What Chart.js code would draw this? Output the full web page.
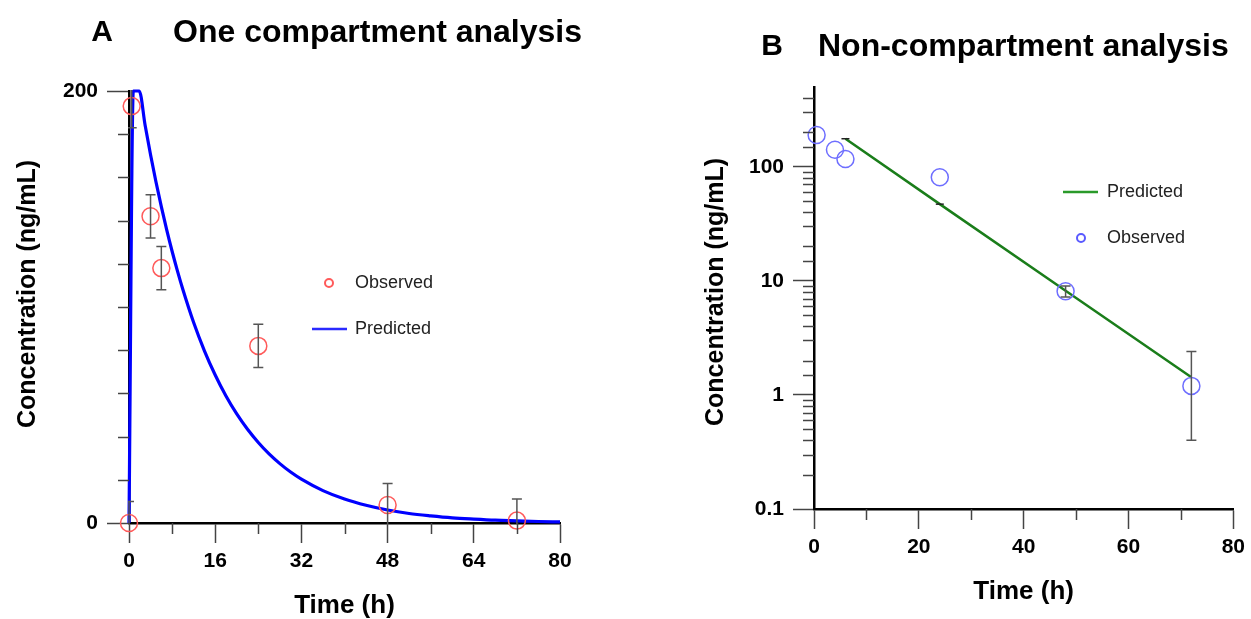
<!DOCTYPE html>
<html><head><meta charset="utf-8">
<script src="https://cdn.jsdelivr.net/npm/chart.js@4.4.0/dist/chart.umd.min.js"></script>
<style>
html,body{margin:0;padding:0;background:#fff;}
#wrap{position:relative;width:1251px;height:619px;overflow:hidden;background:#fff;}
canvas{position:absolute;top:0;}
#cA{left:0;} #cB{left:625px;}
</style></head><body>
<div id="wrap"><canvas id="cA" width="625" height="619"></canvas><canvas id="cB" width="626" height="619"></canvas></div>
<script>
// ---------- Panel A: one compartment analysis ----------
const obsTimeA  = [0, 0.5, 4, 6, 24, 48, 72];
const obsConcA  = [0, 193, 142, 118, 82, 8.3, 1.1];
const obsSdA    = [10, 10, 10, 10, 10, 10, 10];
const predTimeA = [0, 0.8, 1.9, 3, 4, 5, 6, 7, 8, 9, 10, 12, 14, 16, 18, 20, 22, 24, 26, 28, 30, 32, 36, 40, 44, 48, 52, 56, 60, 64, 68, 72, 76, 80];
const predConcA = [0, 200, 200, 184, 170.5, 158, 146.5, 135.7, 125.8, 116.6, 108.1, 92.8, 79.7, 68.5, 58.8, 50.5, 43.4, 37.3, 32.0, 27.5, 23.6, 20.3, 15.0, 11.1, 8.2, 6.0, 4.4, 3.3, 2.4, 1.8, 1.3, 1.0, 0.7, 0.5];
const xTicksA   = [0, 16, 32, 48, 64, 80];
const yTicksA   = [0, 200];

// ---------- Panel B: non-compartment analysis ----------
const obsTimeB  = [0.5, 4, 6, 24, 48, 72];
const obsConcB  = [190, 141, 117, 81, 8.1, 1.2];
const errLowB   = [null, null, null, null, 7.2, 0.4];
const errHighB  = [null, null, null, null, 9.0, 2.4];
const predTimeB = [6, 24, 48, 72];
const predConcB = [176, 47, 8.2, 1.43];
const xTicksB   = [0, 20, 40, 60, 80];
const yTicksB   = [0.1, 1, 10, 100];

const FONT = '"Liberation Sans", Arial, Helvetica, sans-serif';
const TICKC = '#444';
const inList = (list, v) => list.some(t => Math.abs(t - v) <= Math.abs(t) * 1e-6 + 1e-9);
const pts = (xs, ys) => xs.map((x, i) => ({x: x, y: ys[i]}));

const decor = {
  id: 'decor',
  afterDatasetsDraw(chart, args, o) {
    const ctx = chart.ctx, xs = chart.scales.x, ys = chart.scales.y, ca = chart.chartArea;
    ctx.save();
    ctx.beginPath(); ctx.rect(ca.left - 1, ca.top - 1, ca.right - ca.left + 2, ca.bottom - ca.top + 2); ctx.clip();
    ctx.strokeStyle = '#555'; ctx.lineWidth = 1.5;
    o.err.t.forEach((t, i) => {
      const lo = o.err.lo[i], hi = o.err.hi[i];
      if (lo == null || hi == null) return;
      const px = xs.getPixelForValue(t), p1 = ys.getPixelForValue(lo), p2 = ys.getPixelForValue(hi);
      ctx.beginPath();
      ctx.moveTo(px, p1); ctx.lineTo(px, p2);
      ctx.moveTo(px - 5, p1); ctx.lineTo(px + 5, p1);
      ctx.moveTo(px - 5, p2); ctx.lineTo(px + 5, p2);
      ctx.stroke();
    });
    ctx.restore();
  },
  afterDraw(chart, args, o) {
    const ctx = chart.ctx, xs = chart.scales.x, ys = chart.scales.y, ca = chart.chartArea;
    ctx.save();
    // minor tick marks
    ctx.strokeStyle = TICKC; ctx.lineWidth = 1.5;
    ctx.beginPath();
    xs.ticks.forEach(t => {
      if (inList(o.xLab, t.value)) return;
      const px = Math.round(xs.getPixelForValue(t.value)) + 0.5;
      ctx.moveTo(px, ca.bottom); ctx.lineTo(px, ca.bottom + o.minor);
    });
    ys.ticks.forEach(t => {
      if (inList(o.yLab, t.value) || (o.skipYMax && t.value >= ys.max)) return;
      const py = Math.round(ys.getPixelForValue(t.value)) + 0.5;
      ctx.moveTo(ca.left, py); ctx.lineTo(ca.left - o.minor, py);
    });
    ctx.stroke();
    // titles
    ctx.fillStyle = '#000';
    ctx.textBaseline = 'alphabetic';
    ctx.font = 'bold 30px ' + FONT; ctx.textAlign = 'center';
    ctx.fillText(o.letter.text, o.letter.x, o.letter.y);
    ctx.font = 'bold 32px ' + FONT; ctx.textAlign = 'left';
    ctx.fillText(o.title.text, o.title.x, o.title.y);
    // y-axis title
    ctx.save();
    ctx.translate(o.yTitle.x, o.yTitle.y); ctx.rotate(-Math.PI / 2);
    ctx.font = 'bold 25px ' + FONT; ctx.textAlign = 'center'; ctx.textBaseline = 'middle';
    ctx.fillText(o.yTitle.text, 0, 0);
    ctx.restore();
    // legend
    ctx.font = '18px ' + FONT; ctx.textAlign = 'left'; ctx.textBaseline = 'middle';
    o.legend.forEach(it => {
      ctx.strokeStyle = it.color;
      if (it.kind === 'line') {
        ctx.lineWidth = 2.5;
        ctx.beginPath(); ctx.moveTo(it.x0, it.y); ctx.lineTo(it.x1, it.y); ctx.stroke();
      } else {
        ctx.lineWidth = 2;
        ctx.beginPath(); ctx.arc((it.x0 + it.x1) / 2, it.y, 4, 0, Math.PI * 2); ctx.stroke();
      }
      ctx.fillStyle = '#222';
      ctx.fillText(it.label, it.tx, it.y);
    });
    ctx.restore();
  }
};

function axisX(max, step, labels, h, titlePadBottom) {
  return {
    type: 'linear', min: 0, max: max,
    afterFit: s => { s.height = h; },
    border: {display: true, color: '#000', width: 2.5},
    grid: {display: true, drawOnChartArea: false, tickLength: 20, tickWidth: 1.5,
           tickColor: c => (c.tick && !inList(labels, c.tick.value)) ? 'rgba(0,0,0,0)' : TICKC},
    ticks: {stepSize: step, autoSkip: false, maxRotation: 0, padding: 6, color: '#000',
            font: {family: FONT, size: 21, weight: 'bold'},
            callback: v => inList(labels, v) ? String(v) : ''},
    title: {display: true, text: 'Time (h)', color: '#000',
            font: {family: FONT, size: 26, weight: 'bold', lineHeight: 1},
            padding: {top: 0, bottom: titlePadBottom}}
  };
}

// ---------- Chart A ----------
new Chart(document.getElementById('cA'), {
  type: 'line',
  data: {
    datasets: [
      {label: 'Predicted', data: pts(predTimeA, predConcA), borderColor: '#0000ff', borderWidth: 3.2,
       pointRadius: 0, cubicInterpolationMode: 'monotone', fill: false, clip: false, order: 2},
      {label: 'Observed', type: 'scatter', data: pts(obsTimeA, obsConcA), showLine: false,
       pointStyle: 'circle', pointRadius: 8.5, pointBorderWidth: 1.5,
       pointBorderColor: '#ff5a5a', pointBackgroundColor: 'rgba(0,0,0,0)', clip: false, order: 1}
    ]
  },
  options: {
    responsive: false, animation: false, events: [],
    layout: {padding: {left: 0, right: 65, top: 91, bottom: 0}},
    scales: {
      x: axisX(80, 8, xTicksA, 96, 0),
      y: {
        type: 'linear', min: 0, max: 200,
        afterFit: s => { s.width = 129; },
        border: {display: true, color: '#000', width: 2.5},
        grid: {display: true, drawOnChartArea: false, tickLength: 22, tickWidth: 1.5,
               tickColor: c => (c.tick && !inList(yTicksA, c.tick.value)) ? 'rgba(0,0,0,0)' : TICKC},
        ticks: {stepSize: 20, autoSkip: false, padding: 9, color: '#000',
                font: {family: FONT, size: 21, weight: 'bold'},
                callback: v => inList(yTicksA, v) ? String(v) : ''}
      }
    },
    plugins: {
      legend: {display: false}, tooltip: {enabled: false},
      decor: {
        xLab: xTicksA, yLab: yTicksA, minor: 11, skipYMax: false,
        err: {t: obsTimeA, lo: obsConcA.map((v, i) => v - obsSdA[i]), hi: obsConcA.map((v, i) => v + obsSdA[i])},
        letter: {text: 'A', x: 102, y: 41},
        title: {text: 'One compartment analysis', x: 173, y: 42},
        yTitle: {text: 'Concentration (ng/mL)', x: 28, y: 294},
        legend: [
          {kind: 'circle', color: '#ff5a5a', x0: 325, x1: 333, y: 283, tx: 355, label: 'Observed'},
          {kind: 'line', color: '#2a2aff', x0: 312, x1: 347, y: 329, tx: 355, label: 'Predicted'}
        ]
      }
    }
  },
  plugins: [decor]
});

// ---------- Chart B ----------
new Chart(document.getElementById('cB'), {
  type: 'line',
  data: {
    datasets: [
      {label: 'Predicted', data: pts(predTimeB, predConcB), borderColor: '#1a7d1a', borderWidth: 2.5,
       pointStyle: 'line', pointRadius: [4, 4, 0, 0], pointBorderColor: '#222', pointBorderWidth: 1.5,
       fill: false, clip: false, order: 2},
      {label: 'Observed', type: 'scatter', data: pts(obsTimeB, obsConcB), showLine: false,
       pointStyle: 'circle', pointRadius: 8.5, pointBorderWidth: 1.5,
       pointBorderColor: '#6e6eff', pointBackgroundColor: 'rgba(0,0,0,0)', clip: false, order: 1}
    ]
  },
  options: {
    responsive: false, animation: false, events: [],
    layout: {padding: {left: 0, right: 16, top: 87, bottom: 0}},
    scales: {
      x: axisX(80, 10, xTicksB, 110, 14),
      y: {
        type: 'logarithmic', min: 0.1, max: 500,
        afterFit: s => { s.width = 189; },
        border: {display: true, color: '#000', width: 2.5},
        grid: {display: true, drawOnChartArea: false, tickLength: 21, tickWidth: 1.5,
               tickColor: c => (c.tick && !inList(yTicksB, c.tick.value)) ? 'rgba(0,0,0,0)' : TICKC},
        ticks: {autoSkip: false, padding: 9, color: '#000',
                font: {family: FONT, size: 21, weight: 'bold'},
                callback: v => inList(yTicksB, v) ? String(v) : ''}
      }
    },
    plugins: {
      legend: {display: false}, tooltip: {enabled: false},
      decor: {
        xLab: xTicksB, yLab: yTicksB, minor: 11, skipYMax: true,
        err: {t: obsTimeB, lo: errLowB, hi: errHighB},
        letter: {text: 'B', x: 147, y: 55},
        title: {text: 'Non-compartment analysis', x: 193, y: 56},
        yTitle: {text: 'Concentration (ng/mL)', x: 91, y: 292},
        legend: [
          {kind: 'line', color: '#2a9a2a', x0: 438, x1: 473, y: 192, tx: 482, label: 'Predicted'},
          {kind: 'circle', color: '#5a5aff', x0: 452, x1: 460, y: 238, tx: 482, label: 'Observed'}
        ]
      }
    }
  },
  plugins: [decor]
});
</script>
</body></html>
